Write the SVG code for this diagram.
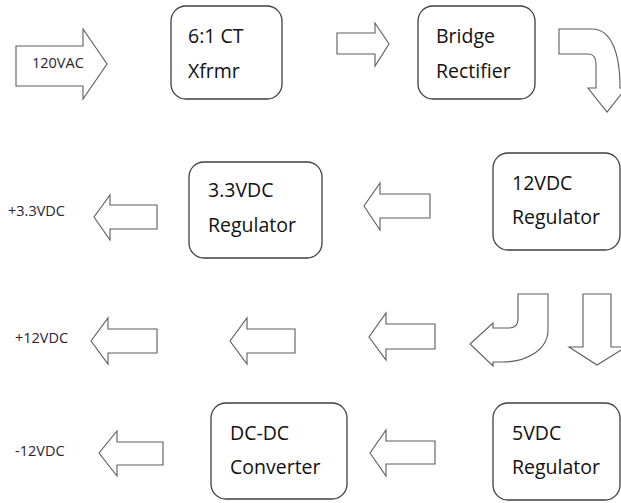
<svg xmlns="http://www.w3.org/2000/svg" width="621" height="503" viewBox="0 0 621 503">
  <style>
    .box { fill: #ffffff; stroke: #3f3f3f; stroke-width: 1.3; }
    .arrow { fill: #ffffff; stroke: #5c5c5c; stroke-width: 1.1; stroke-linejoin: miter; }
    .label { font-family: "Open Sans", "Liberation Sans", sans-serif; font-size: 19.5px; fill: #111111; }
    .io { font-family: "Open Sans", "Liberation Sans", sans-serif; font-size: 14.5px; fill: #2a2233; }
  </style>
  <rect width="621" height="503" fill="#ffffff"/>

  <!-- block arrows between stages -->
  <g id="connectors">
    <!-- mains input -->
    <path class="arrow" d="M16,46 L83,46 L83,29 L107,64 L83,99 L83,86 L16,86 Z"/>
    <!-- transformer to rectifier -->
    <path class="arrow" d="M337,33 L375,33 L375,23 L389,44 L375,66 L375,54 L337,54 Z"/>
    <!-- rectifier down to 12V regulator (bent) -->
    <path class="arrow" d="M559,29 L592,29 C610,29 620,50 620,88 L626,88 L607,112 L588,88 L596,88 L596,64 Q596,54 588,54 L559,54 Z"/>
    <!-- 12V regulator to 3.3V regulator -->
    <path class="arrow" d="M430,194 L380,194 L380,183 L364,206 L380,230 L380,218 L430,218 Z"/>
    <!-- 3.3V output -->
    <path class="arrow" d="M157,205 L110,205 L110,195 L94,217 L110,240 L110,229 L157,229 Z"/>
    <!-- 12V regulator bent arrow toward 12V rail -->
    <path class="arrow" d="M518,294 L548,294 L548,330 C548,350 526,362 503,362 L493,362 L493,366 L470,344 L493,323 L493,328 L509,328 Q518,328 518,319 Z"/>
    <!-- 12V regulator down to 5V regulator -->
    <path class="arrow" d="M583,294 L611,294 L611,347 L626,347 L597,365 L569,347 L583,347 Z"/>
    <!-- +12V rail chain -->
    <path class="arrow" d="M435,324 L386,324 L386,313 L369,337 L386,360 L386,349 L435,349 Z"/>
    <path class="arrow" d="M295,329 L247,329 L247,318 L230,341 L247,364 L247,353 L295,353 Z"/>
    <path class="arrow" d="M157,329 L108,329 L108,318 L91,341 L108,364 L108,353 L157,353 Z"/>
    <!-- 5V regulator to DC-DC converter -->
    <path class="arrow" d="M435,441 L386,441 L386,430 L370,453 L386,476 L386,464 L435,464 Z"/>
    <!-- -12V output -->
    <path class="arrow" d="M163,442 L117,442 L117,431 L99,453 L117,476 L117,465 L163,465 Z"/>
  </g>

  <!-- rail labels -->
  <text class="io" x="32" y="68">120VAC</text>
  <text class="io" x="8" y="216">+3.3VDC</text>
  <text class="io" x="15" y="343">+12VDC</text>
  <text class="io" x="15" y="456">-12VDC</text>

  <g id="transformer">
    <rect class="box" x="171" y="6" width="111" height="93" rx="15"/>
    <text class="label" x="188" y="43">6:1 CT</text>
    <text class="label" x="188" y="78">Xfrmr</text>
  </g>

  <g id="rectifier">
    <rect class="box" x="418" y="6" width="117" height="93" rx="15"/>
    <text class="label" x="436" y="43">Bridge</text>
    <text class="label" x="436" y="78">Rectifier</text>
  </g>

  <g id="reg12">
    <rect class="box" x="493" y="153" width="127" height="97" rx="15"/>
    <text class="label" x="512" y="190">12VDC</text>
    <text class="label" x="512" y="224">Regulator</text>
  </g>

  <g id="reg33">
    <rect class="box" x="189" y="162" width="133" height="96" rx="15"/>
    <text class="label" x="208" y="197">3.3VDC</text>
    <text class="label" x="208" y="232">Regulator</text>
  </g>

  <g id="dcdc">
    <rect class="box" x="211" y="403" width="136" height="96" rx="15"/>
    <text class="label" x="230" y="440">DC-DC</text>
    <text class="label" x="230" y="474">Converter</text>
  </g>

  <g id="reg5">
    <rect class="box" x="493" y="403" width="127" height="97" rx="15"/>
    <text class="label" x="512" y="440">5VDC</text>
    <text class="label" x="512" y="474">Regulator</text>
  </g>
</svg>
